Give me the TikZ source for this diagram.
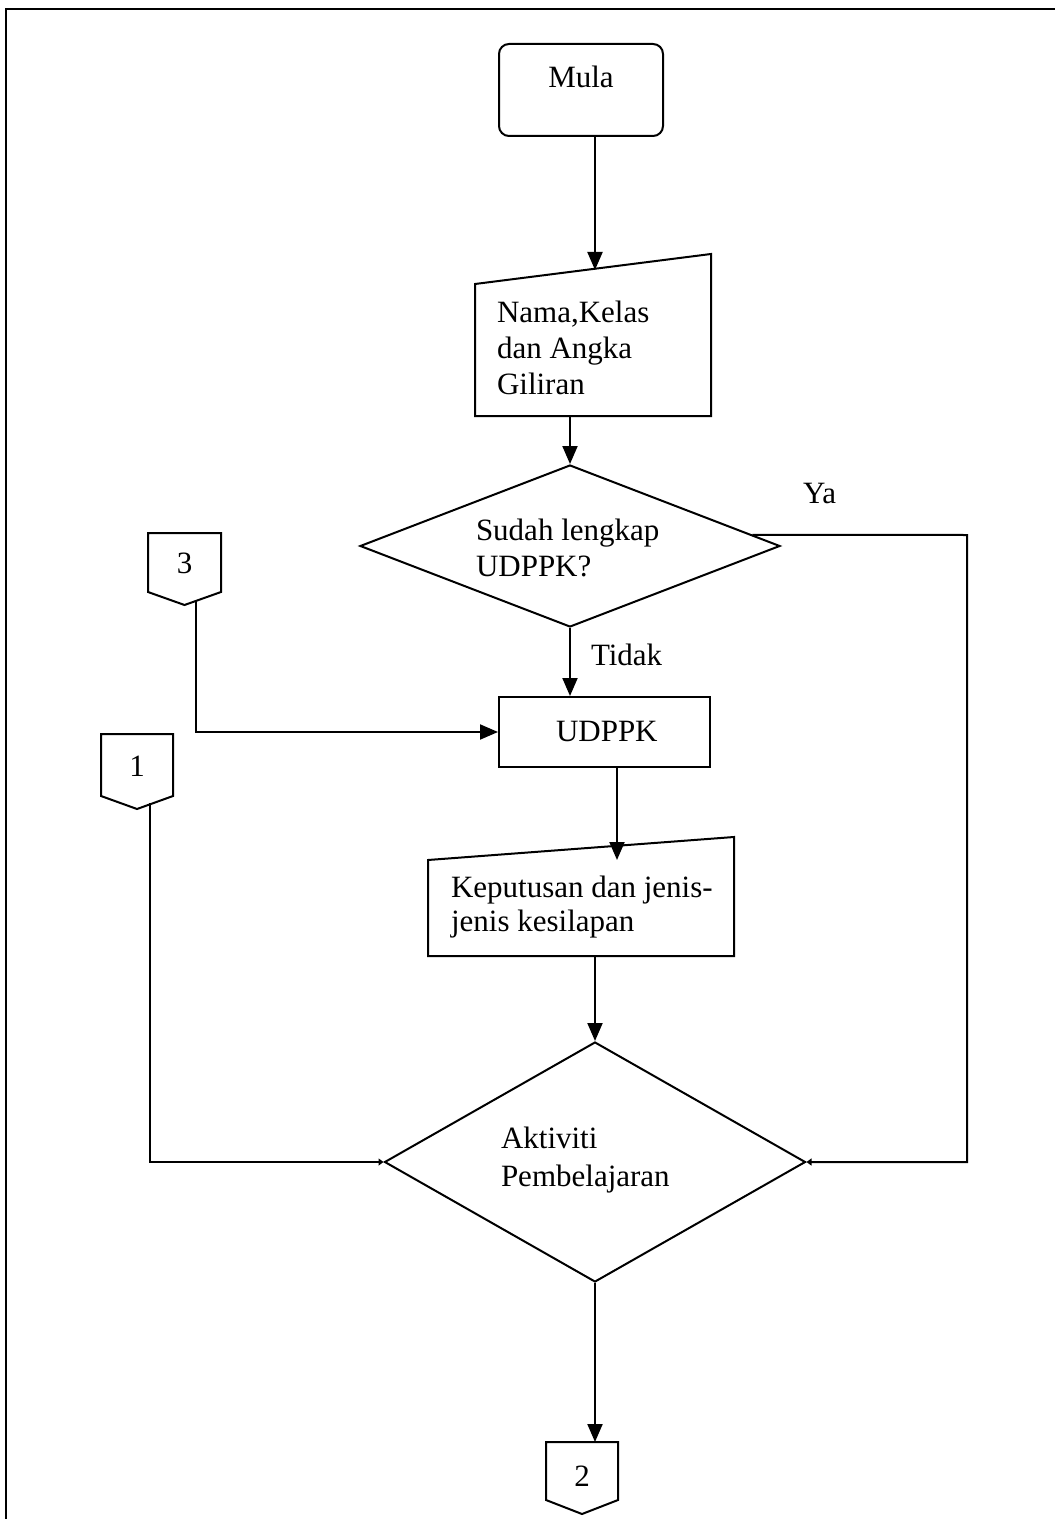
\documentclass[tikz,border=0pt]{standalone}
\usepackage{fontspec}
\setmainfont{Liberation Serif}
\usetikzlibrary{arrows.meta,calc,shapes.geometric}
\begin{document}
\begin{tikzpicture}[x=0.5pt,y=-0.5pt,
  line width=1pt,
  txt/.style={inner sep=0pt,anchor=base west,font=\fontsize{15.5}{18}\selectfont},
  ctxt/.style={txt,anchor=base},
  frame/.style={draw=none,inner sep=0pt,minimum width=#1},
  flow/.style={-{Triangle[length=9pt,width=7.5pt]}},
  tiny/.style={-{Triangle[length=2.5pt,width=3.5pt]}},
  decision/.style={diamond,draw,inner sep=0pt,minimum width=#1}
]
\useasboundingbox (0,0) rectangle (1055,1519);

% page frame
\draw (6,1519) -- (6,9) -- (1055,9);

% start terminal
\node[draw,rounded corners=5pt,inner sep=0pt,minimum width=82pt,minimum height=46pt] (mula) at (581,90) {};
\node[ctxt] (mulat) at (581,88) {Mula};

% input: name, class, index number
\node[frame=117pt,minimum height=80pt] (nama) at (593,335) {};
\draw (nama.south west) -- (nama.south east) -- (nama.north east)
      -- ($(nama.north west)+(0,30)$) -- cycle;
\node[txt] (nama1) at (496,322) {Nama,Kelas};
\node[txt] (nama2) at (496,358) {dan Angka};
\node[txt] (nama3) at (496,394) {Giliran};
\coordinate (namain) at (595,270);

% decision: UDPPK complete?
\node[decision=210pt,minimum height=81pt] (d1) at (570,546) {};
\node[txt] (d1a) at (475,540) {Sudah lengkap};
\node[txt] (d1b) at (475,576) {UDPPK?};
\node[txt] (ya) at (802,503) {Ya};
\node[txt] (tidak) at (590,665) {Tidak};

% process UDPPK
\node[draw,inner sep=0pt,minimum width=105.5pt,minimum height=35pt] (udppk) at (604.5,732) {};
\node[txt] (udppkt) at (555,741) {UDPPK};

% off-page connector 3
\node[frame=35.5pt,minimum height=28.5pt] (c3) at (184.5,562.5) {};
\draw (c3.north west) -- (c3.north east) -- (c3.south east)
      -- ($(c3.south)+(0,13)$) -- (c3.south west) -- cycle;
\node[ctxt] (c3t) at (184.5,573) {3};
\coordinate (c3out) at (196,600);

% output: result and error types
\node[frame=152pt,minimum height=58.5pt] (kep) at (581,896.5) {};
\draw (kep.south west) -- (kep.south east) -- (kep.north east)
      -- ($(kep.north west)+(0,23)$) -- cycle;
\node[txt] (kep1) at (450,897) {Keputusan dan jenis-};
\node[txt] (kep2) at (450,931) {jenis kesilapan};
\coordinate (kepin) at (617,860);

% off-page connector 1
\node[frame=35pt,minimum height=30pt] (c1) at (137,765) {};
\draw (c1.north west) -- (c1.north east) -- (c1.south east)
      -- ($(c1.south)+(0,13)$) -- (c1.south west) -- cycle;
\node[ctxt] (c1t) at (137,776) {1};
\coordinate (c1out) at (150,803);

% decision: learning activity
\node[decision=210.5pt,minimum height=120pt] (d2) at (595,1162) {};
\node[txt] (d2a) at (500,1148) {Aktiviti};
\node[txt] (d2b) at (500,1186) {Pembelajaran};

% off-page connector 2
\node[frame=35pt,minimum height=28pt] (c2) at (582,1471) {};
\draw (c2.north west) -- (c2.north east) -- (c2.south east)
      -- ($(c2.south)+(0,14)$) -- (c2.south west) -- cycle;
\node[ctxt] (c2t) at (582,1486) {2};

% flow lines
\draw[flow] (mula.south -| namain) -- (namain);
\draw[flow] (nama.south -| d1.north) -- (d1.north);
\draw[flow] (d1.south) -- (d1.south |- udppk.north);
\draw[flow] (c3out) |- (udppk.west);
\draw[flow] (udppk.south -| kepin) -- (kepin);
\draw[flow] (kep.south -| d2.north) -- (d2.north);
\draw[tiny] ($(d1.north)!0.864!(d1.east)$) -- (967,535) |- (d2.east);
\draw[tiny] (c1out) |- (d2.west);
\draw[flow] (d2.south) -- (d2.south |- c2.north);
\end{tikzpicture}
\end{document}
